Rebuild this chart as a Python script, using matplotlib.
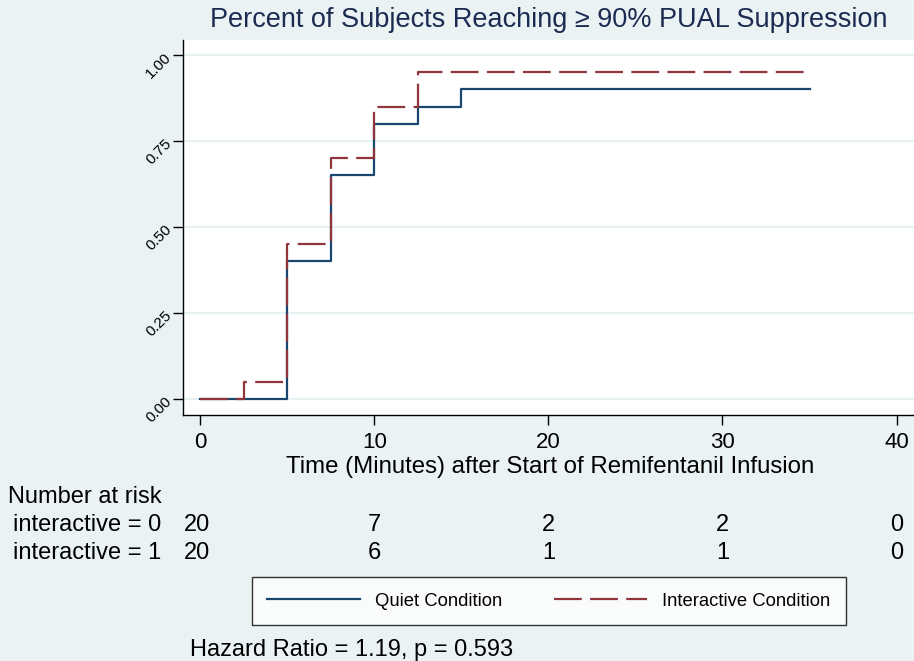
import matplotlib
matplotlib.use("Agg")
import matplotlib.pyplot as plt

# ---- data ----
quiet_t = [0, 5, 7.5, 10, 12.5, 15, 35]
quiet_s = [0.00, 0.40, 0.65, 0.80, 0.85, 0.90, 0.90]
inter_t = [0, 2.5, 5, 7.5, 10, 12.5, 35]
inter_s = [0.00, 0.05, 0.45, 0.70, 0.85, 0.95, 0.95]
risk_times = [0, 10, 20, 30, 40]
risk_quiet = [20, 7, 2, 2, 0]
risk_inter = [20, 6, 1, 1, 0]
yticks = [0.00, 0.25, 0.50, 0.75, 1.00]
xticks = [0, 10, 20, 30, 40]
title = "Percent of Subjects Reaching \u2265 90% PUAL Suppression"
xlabel = "Time (Minutes) after Start of Remifentanil Infusion"
hr_text = "Hazard Ratio = 1.19, p = 0.593"

plt.rcParams['font.family'] = ['Liberation Sans', 'DejaVu Sans']

BG = "#eaf2f3"
NAVY = "#1a476f"
MAROON = "#90353b"
W, H = 914, 661
fig = plt.figure(figsize=(W / 100, H / 100), dpi=100, facecolor=BG)

def fx(px):
    return px / W

def fy(py):
    return 1 - py / H

ax = fig.add_axes([fx(183), fy(415), 1 - fx(183), fy(40) - fy(415)])
ax.set_facecolor("white")
ax.set_xlim(-0.98, 41.0)
ax.set_ylim(-0.047, 1.044)

for y in yticks:
    ax.axhline(y, color="#e3edf1", lw=1.2, zorder=1)

ax.step(quiet_t, quiet_s, where="post", color=NAVY, lw=1.6, zorder=3,
        label="Quiet Condition")
ax.step(inter_t, inter_s, where="post", color=MAROON, lw=1.6, zorder=4,
        dashes=(12.5, 3.75), label="Interactive Condition")

for s in ["top", "right"]:
    ax.spines[s].set_visible(False)
for s in ["left", "bottom"]:
    ax.spines[s].set_color("black")
    ax.spines[s].set_linewidth(1.0)

ax.set_xticks(xticks)
ax.set_xticklabels([str(x) for x in xticks], fontsize=16)
ax.set_yticks(yticks)
ax.set_yticklabels([f"{y:.2f}" for y in yticks], fontsize=11, rotation=45,
                   ha="right", va="center", rotation_mode="anchor")
ax.tick_params(axis="both", length=7, width=1.0, color="black")
ax.tick_params(axis="x", pad=5)
ax.tick_params(axis="y", pad=3)

fig.text(fx(549), fy(20), title, fontsize=19.5, color="#1c2b52",
         ha="center", va="center")
fig.text(fx(550), fy(467), xlabel, fontsize=17.3, ha="center", va="center")

fig.text(fx(8), fy(497), "Number at risk", fontsize=17, ha="left", va="center")
fig.text(fx(13), fy(525), "interactive = 0", fontsize=17, ha="left", va="center")
fig.text(fx(13), fy(553), "interactive = 1", fontsize=17, ha="left", va="center")
for t, q, i in zip(risk_times, risk_quiet, risk_inter):
    xpx = ax.transData.transform((t, 0))[0]
    fig.text(xpx / W - 0.003 * (t == 0), fy(525), str(q), fontsize=17,
             ha="center", va="center")
    fig.text(xpx / W - 0.003 * (t == 0), fy(553), str(i), fontsize=17,
             ha="center", va="center")

handles, labels = ax.get_legend_handles_labels()
leg = fig.legend(handles, labels, loc="center", ncol=2,
                 bbox_to_anchor=(fx(549), fy(601)), fontsize=13.3,
                 frameon=True, fancybox=False, edgecolor="black",
                 handlelength=5.0, columnspacing=2.8, borderpad=0.85,
                 handletextpad=0.85)
leg.get_frame().set_linewidth(1.0)
leg.get_frame().set_facecolor("white")

fig.text(fx(190), fy(650), hr_text, fontsize=17, ha="left", va="center")

fig.savefig("out.png", dpi=100, facecolor=BG)
